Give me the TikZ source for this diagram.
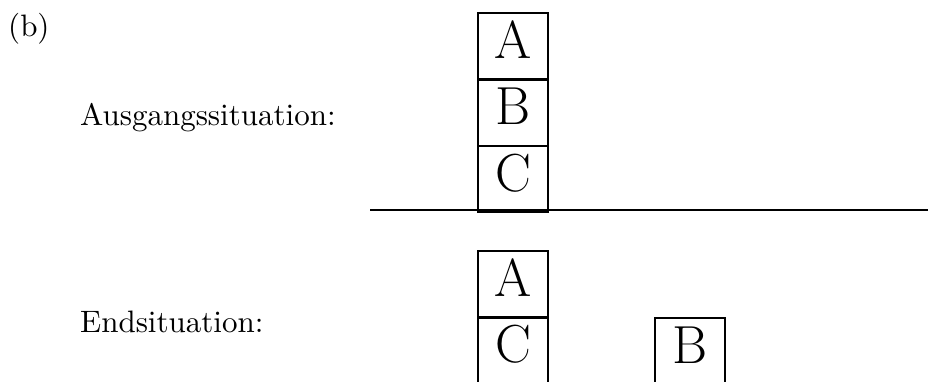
\documentclass[tikz,border=0pt]{standalone}
\usepackage{graphicx}
\begin{document}
\begin{tikzpicture}[x=1pt,y=-1pt,
  blk/.style={draw,line width=2.2pt,minimum width=70pt,minimum height=66pt,inner sep=0pt,
              text height=36pt,text depth=12pt,font=\LARGE,anchor=north west},
  lbl/.style={anchor=base west,inner sep=0pt}]
\useasboundingbox (0,0) rectangle (928,381);
\clip (0,0) rectangle (928,381);
% labels
\node[lbl] (tb) at (8,36) {\scalebox{3.1}{(b)}};
\node[lbl] (ta) at (80,125) {\scalebox{3.1}{Ausgangssituation:}};
\node[lbl] (te) at (80,332) {\scalebox{3.1}{Endsituation:}};
% initial stack
\node[blk] (a1) at (477,12) {\scalebox{3.1}{A}};
\node[blk] (b1) at (477,78.5) {\scalebox{3.1}{B}};
\node[blk] (c1) at (477,145) {\scalebox{3.1}{C}};
% ground line
\coordinate (gl) at (370,210);
\coordinate (gr) at (928,210);
\draw[line width=2pt] (gl) -- (gr);
% final situation
\node[blk] (a2) at (477,250) {\scalebox{3.1}{A}};
\node[blk] (c2) at (477,316.5) {\scalebox{3.1}{C}};
\node[blk] (b2) at (654,317) {\scalebox{3.1}{B}};
\end{tikzpicture}
\end{document}
